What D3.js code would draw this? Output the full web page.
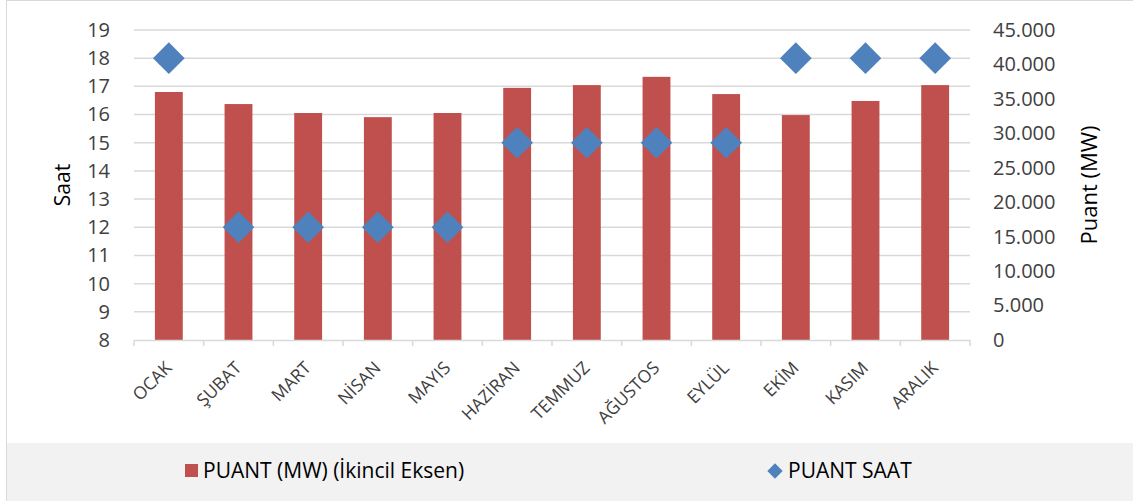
<!DOCTYPE html>
<html lang="tr">
<head>
<meta charset="UTF-8">
<title>Puant</title>
<script src="https://d3js.org/d3.v7.min.js"></script>
<style>
    body { margin: 0; background: #fff; font-family: "Open Sans", "Noto Sans", sans-serif; }
    svg { display: block; }
    .tick text { fill: #404040; }
</style>
</head>
<body>
<div id="chart"></div>
<script>
    const months = ["OCAK", "ŞUBAT", "MART", "NİSAN", "MAYIS", "HAZİRAN", "TEMMUZ", "AĞUSTOS", "EYLÜL", "EKİM", "KASIM", "ARALIK"];
    // ikincil eksen, MW
    const puantMW = [36000, 34250, 32950, 32350, 32950, 36600, 37000, 38200, 35700, 32650, 34700, 37000];
    // saat
    const puantSaat = [18, 12, 12, 12, 12, 15, 15, 15, 15, 18, 18, 18];
    const leftTicks = [8, 9, 10, 11, 12, 13, 14, 15, 16, 17, 18, 19];
    const rightTicks = [0, 5000, 10000, 15000, 20000, 25000, 30000, 35000, 40000, 45000];

    const width = 1133, height = 501;
    const plot = { left: 134, right: 970, top: 30, bottom: 340 };

    const svg = d3.select("#chart").append("svg")
        .attr("width", width)
        .attr("height", height);

    // çerçeve + legend zemini
    svg.append("rect")
        .attr("x", 6.5).attr("y", 0.5)
        .attr("width", width).attr("height", height)
        .attr("fill", "#fff").attr("stroke", "#d9d9d9");
    svg.append("rect")
        .attr("x", 7).attr("y", 443)
        .attr("width", width).attr("height", height - 443)
        .attr("fill", "#f2f2f2");

    const x = d3.scaleBand().domain(months).range([plot.left, plot.right]);
    const yL = d3.scaleLinear().domain([8, 19]).range([plot.bottom, plot.top]);
    const yR = d3.scaleLinear().domain([0, 45000]).range([plot.bottom, plot.top]);

    const tr = d3.formatLocale({ decimal: ",", thousands: ".", grouping: [3], currency: ["", "₺"] });
    const fmt = tr.format(",");

    // gridlines
    svg.append("g")
        .selectAll("line")
        .data(leftTicks.slice(1))
        .enter().append("line")
        .attr("x1", plot.left).attr("x2", plot.right)
        .attr("y1", d => yL(d)).attr("y2", d => yL(d))
        .attr("stroke", "#d9d9d9").attr("stroke-width", 1.5);

    // barlar
    const bw = x.bandwidth() * 0.4;
    svg.append("g")
        .selectAll("rect")
        .data(months)
        .enter().append("rect")
        .attr("x", (d) => x(d) + (x.bandwidth() - bw) / 2)
        .attr("y", (d, i) => yR(puantMW[i]))
        .attr("width", bw)
        .attr("height", (d, i) => plot.bottom - yR(puantMW[i]))
        .attr("fill", "#c0504d");

    // x ekseni
    const xAxis = svg.append("g")
        .attr("transform", `translate(0,${plot.bottom})`)
        .call(d3.axisBottom(x).tickSize(0).tickFormat(""));
    xAxis.select(".domain").attr("stroke", "#d9d9d9").attr("stroke-width", 1.5);
    xAxis.selectAll(".tick").remove();
    xAxis.selectAll(".sep")
        .data(months.concat(["_end"]))
        .enter().append("line")
        .attr("x1", (d, i) => plot.left + i * x.step())
        .attr("x2", (d, i) => plot.left + i * x.step())
        .attr("y1", 0).attr("y2", 6)
        .attr("stroke", "#d9d9d9").attr("stroke-width", 1.5);

    // 45 derece etiketler
    svg.append("g")
        .selectAll("text")
        .data(months)
        .enter().append("text")
        .attr("transform", d => `translate(${x(d) + x.bandwidth() / 2 + 4},${plot.bottom + 29}) rotate(-45)`)
        .attr("text-anchor", "end")
        .attr("font-size", 17.5)
        .attr("fill", "#404040")
        .text(d => d);

    // sol eksen
    const left = svg.append("g")
        .attr("transform", `translate(${plot.left},0)`)
        .call(d3.axisLeft(yL).tickValues(leftTicks).tickSize(0).tickPadding(24));
    left.select(".domain").remove();
    left.selectAll("text").attr("font-size", 20).attr("font-family", "Open Sans");

    // sağ eksen
    const right = svg.append("g")
        .attr("transform", `translate(${plot.right},0)`)
        .call(d3.axisRight(yR).tickValues(rightTicks).tickFormat(fmt).tickSize(0).tickPadding(23));
    right.select(".domain").remove();
    right.selectAll("text").attr("font-size", 20).attr("font-family", "Open Sans");

    // eksen başlıkları
    svg.append("text")
        .attr("transform", `translate(70,${(plot.top + plot.bottom) / 2}) rotate(-90)`)
        .attr("text-anchor", "middle")
        .attr("font-size", 21)
        .attr("fill", "#000")
        .text("Saat");
    svg.append("text")
        .attr("transform", `translate(1097,${(plot.top + plot.bottom) / 2}) rotate(-90)`)
        .attr("text-anchor", "middle")
        .attr("font-size", 22)
        .attr("fill", "#000")
        .text("Puant (MW)");

    // elmaslar
    const diamond = d3.symbol().type(d3.symbolDiamond2).size(640);
    svg.append("g")
        .selectAll("path")
        .data(months)
        .enter().append("path")
        .attr("transform", (d, i) => `translate(${x(d) + x.bandwidth() / 2},${yL(puantSaat[i])})`)
        .attr("d", diamond)
        .attr("fill", "#4f81bd");

    // legend
    const lg = svg.append("g");
    lg.append("rect")
        .attr("x", 185).attr("y", 464)
        .attr("width", 13).attr("height", 13)
        .attr("fill", "#c0504d");
    lg.append("text")
        .attr("x", 203).attr("y", 478)
        .attr("font-size", 21)
        .attr("fill", "#000")
        .text("PUANT (MW) (İkincil Eksen)");
    lg.append("path")
        .attr("transform", "translate(775,471)")
        .attr("d", d3.symbol().type(d3.symbolDiamond2).size(150))
        .attr("fill", "#4f81bd");
    lg.append("text")
        .attr("x", 788).attr("y", 478)
        .attr("font-size", 21)
        .attr("fill", "#000")
        .text("PUANT SAAT");
</script>
</body>
</html>
